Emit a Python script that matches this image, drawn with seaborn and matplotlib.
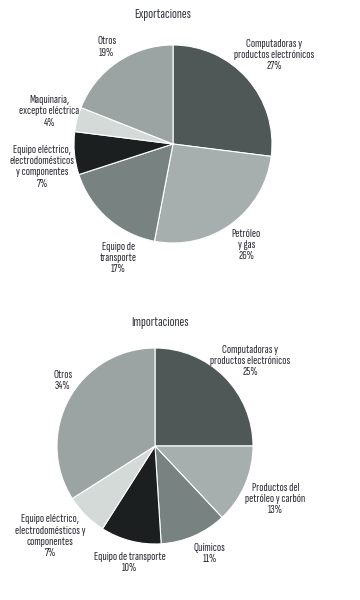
import matplotlib
matplotlib.use("Agg")
import matplotlib.pyplot as plt
import seaborn as sns

# ---- data ----
exp_labels = ["Computadoras y\nproductos electrónicos", "Petróleo\ny gas", "Equipo de\ntransporte",
              "Equipo eléctrico,\nelectrodomésticos\ny componentes", "Maquinaria,\nexcepto eléctrica", "Otros"]
exp_values = [27, 26, 17, 7, 4, 19]

imp_labels = ["Computadoras y\nproductos electrónicos", "Productos del\npetróleo y carbón", "Químicos",
              "Equipo de transporte", "Equipo eléctrico,\nelectrodomésticos y\ncomponentes", "Otros"]
imp_values = [25, 13, 11, 10, 7, 34]

sns.set_theme(style="white")
plt.rcParams['font.family'] = ['Sofia Sans Extra Condensed', 'DejaVu Sans']

palette = ["#4f5757", "#a6afad", "#788381", "#1b1f20", "#d4dad8", "#9ba4a2"]
text_color = "#2a2936"

fig = plt.figure(figsize=(3.6, 6.0), dpi=100)
fig.patch.set_facecolor("white")

# label positions (axes-data coordinates, radius = 1)
exp_pos = [(1.02, 0.90), (0.74, -1.02), (-0.55, -1.15), (-1.32, -0.23), (-1.25, 0.33), (-0.67, 0.98)]
imp_pos = [(0.97, 0.87), (1.23, -0.54), (0.56, -1.10), (-0.26, -1.19), (-1.07, -0.92), (-0.94, 0.67)]


def draw(ax, values, labels, pos, title, title_xy):
    ax.pie(values, colors=palette, startangle=90, counterclock=False,
           wedgeprops=dict(edgecolor="white", linewidth=0.8), radius=1.0)
    ax.set_xlim(-1, 1)
    ax.set_ylim(-1, 1)
    ax.set_aspect("equal")
    ax.axis("off")
    for lab, v, (x, y) in zip(labels, values, pos):
        ax.text(x, y, f"{lab}\n{v}%", ha="center", va="center", fontsize=9,
                color=text_color, linespacing=1.15, clip_on=False)
    ax.text(title_xy[0], title_xy[1], title, ha="center", va="center", fontsize=10.5,
            fontweight="bold", color="#343744", clip_on=False)


ax1 = fig.add_axes([(173 - 99) / 360, (600 - 144 - 99) / 600, 198 / 360, 198 / 600])
draw(ax1, exp_values, exp_labels, exp_pos, "Exportaciones", (-0.10, 1.31))

ax2 = fig.add_axes([(155 - 98) / 360, (600 - 446 - 98) / 600, 196 / 360, 196 / 600])
draw(ax2, imp_values, imp_labels, imp_pos, "Importaciones", (0.05, 1.26))

fig.savefig("out.png", dpi=100, facecolor="white")
